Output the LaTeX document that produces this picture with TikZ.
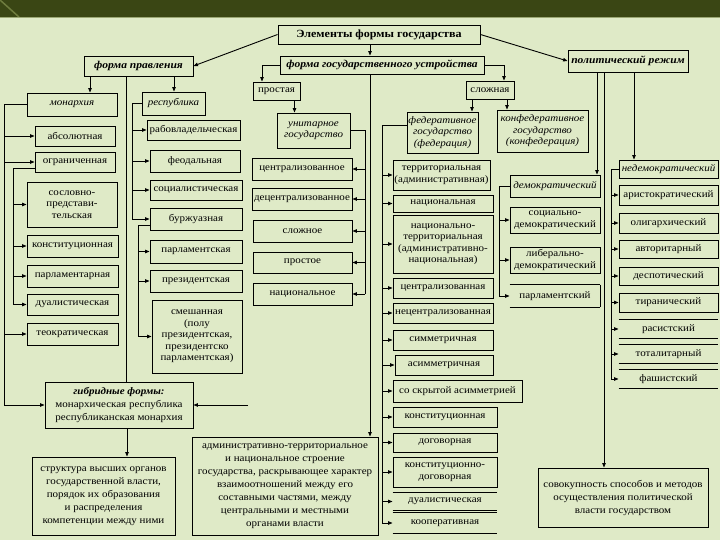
\documentclass[tikz,border=0pt]{standalone}
\usepackage{fontspec}
\setmainfont{Liberation Serif}[FakeStretch=1.1]
\usetikzlibrary{arrows.meta}
\definecolor{bg}{RGB}{223,234,199}
\definecolor{band}{RGB}{58,70,20}
\definecolor{bandlight}{RGB}{110,124,62}
\begin{document}
\begin{tikzpicture}[x=1pt,y=-1pt,
  line width=0.9pt,
  box/.style={draw, inner sep=1pt, align=center, font=\fontsize{10}{11.5}\selectfont},
  obox/.style={inner sep=1pt, align=center, font=\fontsize{10}{11.5}\selectfont},
  big/.style={draw, inner sep=1pt, align=center, font=\fontsize{10}{13}\selectfont},
  head/.style={draw, inner sep=1pt, align=center, font=\fontsize{10.5}{12}\selectfont\bfseries\itshape},
  it/.style={font=\fontsize{10}{11.5}\selectfont\itshape},
  arr/.style={-{Triangle[length=4.5pt,width=3.5pt]}}]
\useasboundingbox (0,0) rectangle (720,540);
\fill[bg] (0,0) rectangle (720,540);
\fill[band] (0,0) rectangle (720,17);
\draw[bandlight, line width=1.5pt] (0,0) -- (19,17);
\draw[bandlight!60!bg, line width=0.8pt] (0,17.5) -- (720,17.5);

% top level
\node[draw, inner sep=1pt, minimum width=202, minimum height=19, font=\fontsize{11}{12}\selectfont\bfseries] (title) at (379,34.5) {Элементы формы государства};
\node[head, minimum width=109, minimum height=20] (fp) at (138.5,66) {форма правления};
\node[head, minimum width=204, minimum height=18] (fgu) at (382,65) {форма государственного устройства};
\node[head, minimum width=120, minimum height=22] (pr) at (628,61) {политический режим};

\draw[arr] (title.west) -- (fp.east);
\draw[arr] (title.east) -- (pr.west);
\draw[arr] ([xshift=-9pt]title.south) -- ([xshift=-9pt]title.south |- fgu.north);

% monarchy
\node[box, it, minimum width=90, minimum height=23] (mon) at (72,104.5) {монархия};
\node[box, minimum width=80, minimum height=20] (abs) at (75,136) {абсолютная};
\node[box, minimum width=80, minimum height=20] (ogr) at (75,162) {ограниченная};
\node[box, minimum width=90, minimum height=45] (sos) at (72,204.5) {сословно-\\представи-\\тельская};
\node[box, minimum width=91, minimum height=22] (kon) at (72.5,246) {конституционная};
\node[box, minimum width=91, minimum height=22] (parl) at (72.5,276) {парламентарная};
\node[box, minimum width=91, minimum height=21] (dual) at (72.5,304.5) {дуалистическая};
\node[box, minimum width=91, minimum height=22] (teo) at (72.5,334) {теократическая};

% republic
\node[box, it, minimum width=63, minimum height=23] (rep) at (173.5,103.5) {республика};
\node[box, minimum width=93, minimum height=20] (rab) at (193.5,130) {рабовладельческая};
\node[box, minimum width=90, minimum height=22] (feo) at (195,161) {феодальная};
\node[box, minimum width=92, minimum height=20] (soc) at (196,190) {социалистическая};
\node[box, minimum width=92, minimum height=22] (bur) at (196,219) {буржуазная};
\node[box, minimum width=92, minimum height=23] (parlr) at (196,251.5) {парламентская};
\node[box, minimum width=92, minimum height=22] (prez) at (196,281) {президентская};
\node[box, minimum width=90, minimum height=73] (mix) at (197,336.5) {смешанная\\(полу\\президентская,\\президентско\\парламентская)};

% hybrid and structure
\node[big, minimum width=148, minimum height=46] (gib) at (119,405) {\textbf{\textit{гибридные формы:}}\\монархическая республика\\республиканская монархия};
\node[big, minimum width=143, minimum height=78] (str) at (103.5,496) {структура высших органов\\государственной власти,\\порядок их образования\\и распределения\\компетенции между ними};

\draw[arr] ([xshift=-48.5pt]fp.south) -- ([xshift=-48.5pt]fp.south |- mon.north);
\draw[arr] ([xshift=35.5pt]fp.south) -- ([xshift=35.5pt]fp.south |- rep.north);
\draw ([xshift=-12.5pt]fp.south) -- ([xshift=-12.5pt]fp.south |- gib.north);

\coordinate (ml) at (4,0);
\coordinate (mi) at (13,0);
\draw[arr] (mon.west) -- (mon.west -| ml) -- (ml |- gib.west) -- (gib.west);
\foreach \n in {abs,ogr,teo} \draw[arr] (ml |- \n.west) -- (\n.west);
\draw ([yshift=-6pt]ogr.west) -| (mi |- dual.west);
\foreach \n in {sos,kon,parl,dual} \draw[arr] (mi |- \n.west) -- (\n.west);

\coordinate (ro) at (132,0);
\coordinate (ri) at (138,0);
\draw (rep.west) -| (ro |- bur.west);
\foreach \n in {rab,feo,soc,bur} \draw[arr] (ro |- \n.west) -- (\n.west);
\draw ([yshift=-6pt]bur.west) -| (ri |- mix.west);
\foreach \n in {parlr,prez,mix} \draw[arr] (ri |- \n.west) -- (\n.west);

\coordinate (gr) at (248,405);
\draw[arr] (gr) -- (gib.east);
\draw[arr] ([xshift=8pt]gib.south) -- ([xshift=8pt]gib.south |- str.north);

% unitary
\node[box, minimum width=47, minimum height=18] (prost) at (276.5,91) {простая};
\node[box, it, minimum width=73, minimum height=35] (uni) at (313.5,130.5) {унитарное\\государство};
\node[box, minimum width=100, minimum height=22] (cen) at (302,169) {централизованное};
\node[box, minimum width=100, minimum height=22] (dec) at (302,199) {децентрализованное};
\node[box, minimum width=99, minimum height=22] (slo) at (302.5,231) {сложное};
\node[box, minimum width=99, minimum height=21] (pro) at (302.5,262.5) {простое};
\node[box, minimum width=99, minimum height=22] (nac) at (302.5,294) {национальное};

\draw[arr] (fgu.west) -| ([xshift=-14.5pt]prost.north);
\draw[arr] ([xshift=18pt]prost.south) -- ([xshift=18pt]prost.south |- uni.north);
\coordinate (ur) at (365,0);
\draw (uni.east) -- (uni.east -| ur) -- (ur |- nac.east);
\foreach \n in {cen,dec,slo,pro,nac} \draw[arr] (ur |- \n.east) -- (\n.east);

% administrative box
\node[big, minimum width=186, minimum height=98] (adm) at (285,486) {административно-территориальное\\и национальное строение\\государства, раскрывающее характер\\взаимоотношений между его\\составными частями, между\\центральными и местными\\органами власти};
\draw[arr] ([xshift=-12pt]fgu.south) -- ([xshift=-12pt]fgu.south |- adm.north);

% complex
\node[box, minimum width=48, minimum height=18] (slozh) at (490,90) {сложная};
\node[box, it, minimum width=71, minimum height=41] (fed) at (442.5,132.5) {федеративное\\государство\\(федерация)};
\node[box, it, minimum width=91, minimum height=42] (conf) at (542.5,131) {конфедеративное\\государство\\(конфедерация)};
\draw[arr] (fgu.east) -| ([xshift=14pt]slozh.north);
\draw[arr] ([xshift=-18pt]slozh.south) -- ([xshift=-18pt]slozh.south |- fed.north);
\draw[arr] ([xshift=17pt]slozh.south) -- ([xshift=17pt]slozh.south |- conf.north);

\node[box, minimum width=97, minimum height=30] (ter) at (441.5,175) {территориальная\\(административная)};
\node[box, minimum width=100, minimum height=17] (nacl) at (443,203.5) {национальная};
\node[box, minimum width=100, minimum height=58] (nt) at (443,244) {национально-\\территориальная\\(административно-\\национальная)};
\node[box, minimum width=100, minimum height=20] (cent) at (443,288) {централизованная};
\node[box, minimum width=100, minimum height=20] (necent) at (443,313) {нецентрализованная};
\node[box, minimum width=100, minimum height=20] (sym) at (443,340) {симметричная};
\node[box, minimum width=98, minimum height=20] (asym) at (444,365) {асимметричная};
\node[box, minimum width=129, minimum height=22] (hid) at (457.5,391) {со скрытой асимметрией};
\node[box, minimum width=104, minimum height=20] (konst) at (445,417) {конституционная};
\node[box, minimum width=104, minimum height=19] (dog) at (445,442.5) {договорная};
\node[box, minimum width=104, minimum height=30] (kd) at (445,472) {конституционно-\\договорная};
\node[obox, minimum width=104, minimum height=17] (duf) at (445,501.5) {дуалистическая};
\node[obox, minimum width=104, minimum height=20] (koop) at (445,523) {кооперативная};
\foreach \n in {duf,koop} \draw (\n.north west) -- (\n.north east) (\n.south west) -- (\n.south east);

\coordinate (fl) at (382,0);
\draw ([yshift=7pt]fed.west) -| (fl |- koop.west);
\foreach \n in {ter,nacl,nt,cent,necent,sym,asym,hid,konst,dog,kd,duf,koop} \draw[arr] (fl |- \n.west) -- (\n.west);

% political regime
\node[box, it, minimum width=90, minimum height=22] (dem) at (555,186) {демократический};
\node[box, minimum width=90, minimum height=26] (sd) at (555,220) {социально-\\демократический};
\node[box, minimum width=90, minimum height=26] (ld) at (555,260) {либерально-\\демократический};
\node[obox, minimum width=90, minimum height=22] (pd) at (555,296) {парламентский};
\draw (pd.north west) -- (pd.north east) (pd.south west) -- (pd.south east) (pd.north east) -- (pd.south east);

\node[box, it, minimum width=99, minimum height=18] (ndem) at (668.5,169) {недемократический};
\node[box, minimum width=99, minimum height=20] (ari) at (668.5,195) {аристократический};
\node[box, minimum width=99, minimum height=20] (oli) at (668.5,223) {олигархический};
\node[box, minimum width=99, minimum height=18] (avt) at (668.5,249) {авторитарный};
\node[box, minimum width=99, minimum height=18] (des) at (668.5,276) {деспотический};
\node[box, minimum width=99, minimum height=19] (tir) at (668.5,302.5) {тиранический};
\node[obox, minimum width=99, minimum height=18] (ras) at (668.5,329) {расистский};
\node[obox, minimum width=99, minimum height=18] (tot) at (668.5,354) {тоталитарный};
\node[obox, minimum width=99, minimum height=18] (fas) at (668.5,379) {фашистский};
\foreach \n in {ras,tot,fas} \draw (\n.north west) -- (\n.north east) (\n.south west) -- (\n.south east);

\node[big, minimum width=170, minimum height=59] (sov) at (623,497.5) {совокупность способов и методов\\осуществления политической\\власти государством};

\draw[arr] ([xshift=-31pt]pr.south) -- ([xshift=-31pt]pr.south |- dem.north);
\draw[arr] ([xshift=-24pt]pr.south) -- ([xshift=-24pt]pr.south |- sov.north);
\draw[arr] ([xshift=6pt]pr.south) -- ([xshift=6pt]pr.south |- ndem.north);

\coordinate (dl) at (499,0);
\draw (dem.west) -| (dl |- pd.west);
\foreach \n in {sd,ld,pd} \draw[arr] (dl |- \n.west) -- (\n.west);

\coordinate (nl) at (611,0);
\draw (ndem.west) -| (nl |- fas.west);
\foreach \n in {ari,oli,avt,des,tir,ras,tot,fas} \draw[arr] (nl |- \n.west) -- (\n.west);
\end{tikzpicture}
\end{document}
